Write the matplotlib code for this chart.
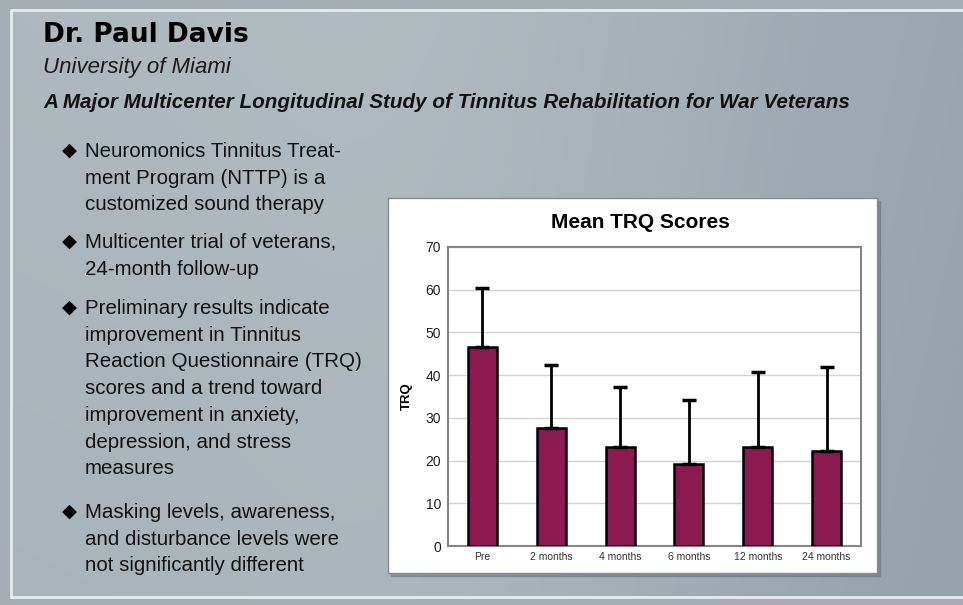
import numpy as np
import matplotlib
matplotlib.use('Agg')
import matplotlib.pyplot as plt
from matplotlib.patches import Rectangle

W, H = 963, 605

# ---- chart data ----
categories = ['Pre', '2 months', '4 months', '6 months', '12 months', '24 months']
mean_trq = [46.5, 27.6, 23.2, 19.2, 23.2, 22.2]
sd_trq = [13.9, 14.8, 14.1, 15.0, 17.6, 19.8]
y_ticks = [0, 10, 20, 30, 40, 50, 60, 70]

# ---- slide text ----
name = "Dr. Paul Davis"
affiliation = "University of Miami"
study_title = "A Major Multicenter Longitudinal Study of Tinnitus Rehabilitation for War Veterans"
bullets = [
    ["Neuromonics Tinnitus Treat-", "ment Program (NTTP) is a", "customized sound therapy"],
    ["Multicenter trial of veterans,", "24-month follow-up"],
    ["Preliminary results indicate", "improvement in Tinnitus", "Reaction Questionnaire (TRQ)",
     "scores and a trend toward", "improvement in anxiety,", "depression, and stress", "measures"],
    ["Masking levels, awareness,", "and disturbance levels were", "not significantly different"],
]
bullet_baselines = [157, 248, 314, 518]
line_step = 26.7

fig = plt.figure(figsize=(W / 100, H / 100), dpi=100)

# background axes in pixel coordinates
bg = fig.add_axes([0, 0, 1, 1])
bg.set_xlim(0, W)
bg.set_ylim(H, 0)
bg.axis('off')

bg.add_patch(Rectangle((0, 0), W, H, color='#a3adb3', zorder=0))

# soft slide gradient for the inner panel
gx, gy = np.meshgrid(np.linspace(0, 1, 200), np.linspace(0, 1, 120))
light = np.array([0.71, 0.75, 0.77])
dark = np.array([0.59, 0.64, 0.67])
t = np.clip(0.25 + 0.65 * gx ** 1.5 + 0.15 * gy - 0.25 * np.exp(-((gx - 0.45) ** 2) / 0.08), 0, 1)
img = light[None, None, :] * (1 - t[..., None]) + dark[None, None, :] * t[..., None]
bg.imshow(img, extent=(11, W + 5, 597, 10), aspect='auto', zorder=1, interpolation='bilinear')
bg.plot([11, 11, W + 5], [597, 10, 10], color='#e6ecef', lw=2, zorder=2)
bg.plot([11, W + 5], [597, 597], color='#e6ecef', lw=2, zorder=2)

# header text
bg.text(43, 42, name, fontsize=19, fontweight='bold', family='DejaVu Sans',
        va='baseline', color='black', zorder=3)
bg.text(43, 73, affiliation, fontsize=16, style='italic', family='Liberation Sans',
        va='baseline', color='#1a1a1a', zorder=3)
bg.text(43, 108, study_title, fontsize=14.9, style='italic', fontweight='bold',
        family='Liberation Sans', va='baseline', color='#111111', zorder=3)

# bullets
for lines, base in zip(bullets, bullet_baselines):
    bg.text(69, base - 7, '\u25c6', fontsize=14, family='DejaVu Sans',
            ha='center', va='center', color='black', zorder=3)
    for i, line in enumerate(lines):
        bg.text(85, base + i * line_step, line, fontsize=14.8, family='Liberation Sans',
                va='baseline', color='#111111', zorder=3)

# chart box with shadow
bg.add_patch(Rectangle((391, 201), 489, 375, color='#5f6b71', alpha=0.45, zorder=3))
bg.add_patch(Rectangle((388, 198), 489, 375, facecolor='white', edgecolor='#8a8a8a',
                       lw=1, zorder=4))
bg.text(640, 228, 'Mean TRQ Scores', fontsize=15, fontweight='bold', family='Liberation Sans',
        ha='center', va='baseline', color='black', zorder=5)

# chart axes
ax = fig.add_axes([448 / W, (H - 546) / H, 413 / W, 299 / H])
ax.set_zorder(5)
ax.set_facecolor('white')
x = np.arange(len(categories))
ax.bar(x, mean_trq, width=0.42, color='#8c1a50', edgecolor='black', linewidth=1.8,
       yerr=[np.zeros(len(sd_trq)), sd_trq],
       error_kw=dict(ecolor='black', elinewidth=2, capsize=5, capthick=2.5), zorder=3)
ax.set_xlim(-0.5, len(categories) - 0.5)
ax.set_ylim(0, 70)
ax.set_yticks(y_ticks)
ax.set_xticks(x)
ax.set_xticklabels(categories, fontsize=7.5, family='Liberation Sans', color='#333333')
ax.tick_params(axis='y', labelsize=10, length=0, pad=5, labelcolor='#222222')
ax.tick_params(axis='x', length=0, pad=4)
for lab in ax.get_yticklabels():
    lab.set_family('Liberation Sans')
ax.yaxis.grid(True, color='#d4d4d4', lw=1)
ax.set_axisbelow(True)
for sp in ax.spines.values():
    sp.set_color('#858585')
    sp.set_linewidth(1.5)
ax.set_ylabel('TRQ', fontsize=9.5, fontweight='bold', family='Liberation Sans', labelpad=9)

fig.savefig('out.png', dpi=100)
